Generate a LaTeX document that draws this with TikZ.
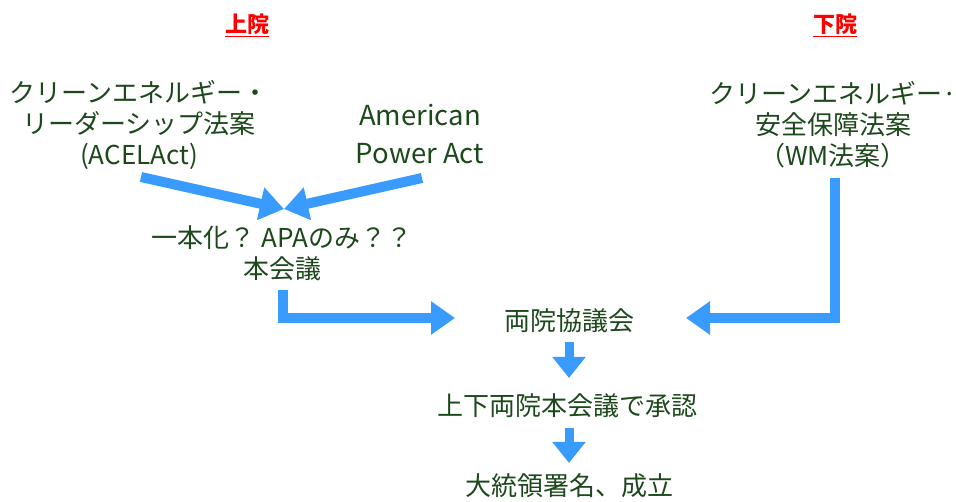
\documentclass[tikz,border=0pt]{standalone}
\usepackage{fontspec}
\setmainfont{Noto Sans CJK JP}
\usetikzlibrary{arrows.meta}
\definecolor{txtgreen}{RGB}{28,72,28}
\definecolor{arrowblue}{RGB}{58,155,255}
\definecolor{headred}{RGB}{255,0,0}
\tikzset{
  lbl/.style={text=txtgreen, align=center, inner sep=0pt, font=\fontsize{26}{31}\selectfont},
  house/.style={text=headred, inner sep=0pt, font=\fontsize{22}{26}\selectfont\bfseries},
  fat/.style={draw=arrowblue, line width=10pt, line join=miter,
    -{Triangle[length=24pt,width=32pt]}},
  slim/.style={draw=arrowblue, line width=9pt,
    -{Triangle[length=21pt,width=32pt]}}
}
\begin{document}
\begin{tikzpicture}[x=1pt,y=1pt]
\useasboundingbox (0,0) rectangle (956,-502);
% headings
\node[house] (senate) at (247,-25) {\underline{上院}};
\node[house] (house) at (835,-25) {\underline{下院}};
% bills
\node[lbl] (acel) at (139,-125) {クリーンエネルギー・\\リーダーシップ法案\\(ACELAct)};
\node[lbl, font=\fontsize{27.5}{38}\selectfont] (apa) at (420,-134) {American\\Power Act};
\node[lbl] (wm) at (833,-125) {クリーンエネルギー·\\安全保障法案\\（WM法案）};
% merge
\node[lbl] (merge) at (282,-253) {一本化？ APAのみ？？\\本会議};
\node[lbl] (conf) at (569,-321) {両院協議会};
\node[lbl] (both) at (567,-406) {上下両院本会議で承認};
\node[lbl] (pres) at (569,-486) {大統領署名、成立};
% connector points
\coordinate (acelout) at (141,-177);
\coordinate (apaout) at (422,-178);
\coordinate (meet) at (284,-209);
\coordinate (mergeout) at (283,-290);
\coordinate (wmout) at (835,-178);
\coordinate (confleft) at (455,-318);
\coordinate (confright) at (686,-318);
\coordinate (d1s) at (569,-342);
\coordinate (d1e) at (569,-378);
\coordinate (d2s) at (569,-428);
\coordinate (d2e) at (569,-463);
% arrows
\draw[fat] (acelout) -- (meet);
\draw[fat] (apaout) -- (meet);
\draw[fat] (mergeout) |- (confleft);
\draw[fat] (wmout) |- (confright);
\draw[slim] (d1s) -- (d1e);
\draw[slim] (d2s) -- (d2e);
\end{tikzpicture}
\end{document}
